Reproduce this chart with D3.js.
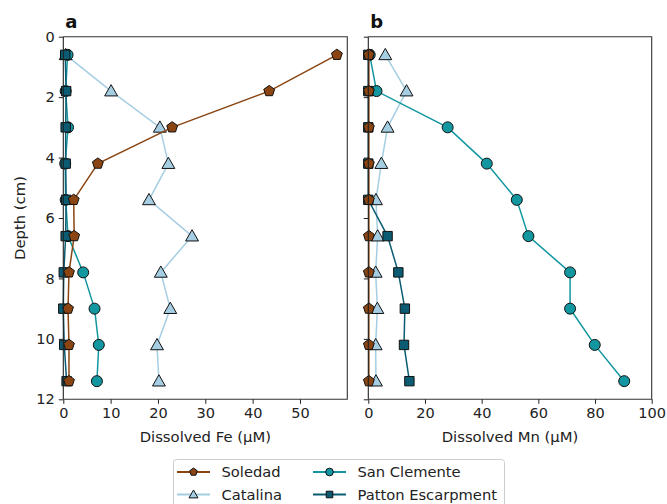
<!DOCTYPE html>
<html>
<head>
<meta charset="utf-8">
<script src="https://cdn.jsdelivr.net/npm/d3@7"></script>
<style>
  html, body { margin: 0; padding: 0; background: #fff; }
  svg { display: block; font-family: "DejaVu Sans", sans-serif; }
</style>
</head>
<body>
<svg id="chart" width="667" height="504"></svg>
<script>
// Porewater profiles: dissolved Fe and Mn with depth at four sites
const depths = [0.6, 1.8, 3.0, 4.2, 5.4, 6.6, 7.8, 9.0, 10.2, 11.4];
const sites = ["Soledad", "Catalina", "San Clemente", "Patton Escarpment"];

const feSoledad = [57.8, 43.5, 23.0, 7.3, 2.2, 2.3, 1.2, 1.0, 1.2, 1.2];
const feCatalina = [0.5, 10.1, 20.4, 22.2, 18.1, 27.2, 20.6, 22.6, 19.8, 20.2];
const feSanClemente = [0.9, 0.5, 1.0, 0.4, 0.5, 1.0, 4.2, 6.6, 7.5, 7.1];
const fePatton = [0.4, 0.6, 0.5, 0.5, 0.6, 0.5, 0.1, 0.0, 0.2, 0.7];

const mnSoledad = [0.2, 0.2, 0.2, 0.2, 0.2, 0.2, 0.2, 0.2, 0.2, 0.2];
const mnCatalina = [6.0, 13.5, 6.8, 4.6, 2.7, 3.3, 2.6, 3.2, 2.6, 2.7];
const mnSanClemente = [0.5, 2.9, 28.0, 41.8, 52.4, 56.5, 71.2, 71.2, 79.9, 90.3];
const mnPatton = [0.0, 0.0, 0.0, 0.0, 0.0, 6.8, 10.6, 12.9, 12.6, 14.5];

const depthTicks = [0, 2, 4, 6, 8, 10, 12];
const feTicks = [0, 10, 20, 30, 40, 50];
const mnTicks = [0, 20, 40, 60, 80, 100];

const style = {
  "Soledad": { line: "#8a4512", fill: "#8a4512", symbol: "pentagon", size: 5.7 },
  "Catalina": { line: "#a6cee3", fill: "#a6cee3", symbol: "triangle", size: 5.6 },
  "San Clemente": { line: "#12969f", fill: "#12969f", symbol: "circle", size: 5.5 },
  "Patton Escarpment": { line: "#0b5c72", fill: "#0b5c72", symbol: "square", size: 4.7 }
};
// stacking order of the profiles (last drawn on top)
const drawOrder = ["Catalina", "San Clemente", "Patton Escarpment", "Soledad"];

const svg = d3.select("#chart");
const plotTop = 36.7, plotBottom = 399.3;
const y = d3.scaleLinear().domain([0, 12]).range([plotTop, plotBottom]);

function markerPath(sym, r) {
  if (sym === "circle") {
    return `M${r},0A${r},${r} 0 1,1 ${-r},0A${r},${r} 0 1,1 ${r},0Z`;
  }
  if (sym === "square") {
    return `M${-r},${-r}H${r}V${r}H${-r}Z`;
  }
  if (sym === "triangle") {
    const h = r * 1.15;
    return `M0,${-h}L${h},${h * 0.75}L${-h},${h * 0.75}Z`;
  }
  // pentagon
  const pts = d3.range(5).map(i => {
    const a = -Math.PI / 2 + i * 2 * Math.PI / 5;
    return [r * Math.cos(a), r * Math.sin(a)];
  });
  return "M" + pts.map(p => p.join(",")).join("L") + "Z";
}

function panel(cfg) {
  const x = d3.scaleLinear().domain(cfg.domain).range([cfg.left, cfg.right]);
  const g = svg.append("g");

  // profiles
  drawOrder.forEach(name => {
    const vals = cfg.values[name];
    const pts = depths.map((d, i) => [x(vals[i]), y(d)]);
    const st = style[name];
    g.append("path")
      .attr("d", d3.line()(pts))
      .attr("fill", "none")
      .attr("stroke", st.line)
      .attr("stroke-width", 1.5);
    g.selectAll(null).data(pts).join("path")
      .attr("transform", p => `translate(${p[0]},${p[1]})`)
      .attr("d", markerPath(st.symbol, st.size))
      .attr("fill", st.fill)
      .attr("stroke", "#111")
      .attr("stroke-width", 1);
  });

  // frame: left spine sits at x = 0
  const x0 = x(0);
  g.append("path")
    .attr("d", `M${x0},${plotTop}V${plotBottom}`)
    .attr("stroke", "#222").attr("stroke-width", 1.1).attr("fill", "none");
  g.append("path")
    .attr("d", `M${x0},${plotTop}H${cfg.right}V${plotBottom}H${x0}`)
    .attr("stroke", "#333").attr("stroke-width", 1.1).attr("fill", "none");

  // axes
  const xAxis = d3.axisBottom(x).tickValues(cfg.ticks).tickSize(4.5).tickPadding(4);
  const gx = g.append("g").attr("transform", `translate(0,${plotBottom})`).call(xAxis);
  gx.select(".domain").remove();
  gx.selectAll("text").attr("font-size", 14.5).attr("fill", "#222")
    .attr("font-family", "DejaVu Sans");
  gx.selectAll("line").attr("stroke", "#222");

  const yAxis = d3.axisLeft(y).tickValues(depthTicks).tickSize(4.5).tickPadding(4)
    .tickFormat(cfg.yLabels ? d3.format("d") : () => "");
  const gy = g.append("g").attr("transform", `translate(${x0},0)`).call(yAxis);
  gy.select(".domain").remove();
  gy.selectAll("text").attr("font-size", 14.5).attr("fill", "#222")
    .attr("font-family", "DejaVu Sans");
  gy.selectAll("line").attr("stroke", "#222");

  // axis title and panel letter
  g.append("text")
    .attr("x", (x0 + cfg.right) / 2).attr("y", 442)
    .attr("text-anchor", "middle").attr("font-size", 14.8).attr("fill", "#222")
    .text(cfg.title);
  g.append("text")
    .attr("x", x0 + 2).attr("y", 28)
    .attr("font-size", 18).attr("font-weight", "bold").attr("fill", "#111")
    .text(cfg.letter);
}

panel({
  left: 63.3, right: 347.3, domain: [0, 60], ticks: feTicks, yLabels: true,
  title: "Dissolved Fe (μM)", letter: "a",
  values: {
    "Soledad": feSoledad, "Catalina": feCatalina,
    "San Clemente": feSanClemente, "Patton Escarpment": fePatton
  }
});
panel({
  left: 368.3, right: 651.7, domain: [0, 100], ticks: mnTicks, yLabels: false,
  title: "Dissolved Mn (μM)", letter: "b",
  values: {
    "Soledad": mnSoledad, "Catalina": mnCatalina,
    "San Clemente": mnSanClemente, "Patton Escarpment": mnPatton
  }
});

// y-axis title
svg.append("text")
  .attr("transform", `translate(25,${(plotTop + plotBottom) / 2}) rotate(-90)`)
  .attr("text-anchor", "middle").attr("font-size", 14.8).attr("fill", "#222")
  .text("Depth (cm)");

// legend (two columns)
const lg = svg.append("g");
lg.append("rect")
  .attr("x", 173.5).attr("y", 459.5).attr("width", 331).attr("height", 56)
  .attr("rx", 3).attr("fill", "#fff").attr("stroke", "#ccc").attr("stroke-width", 1);
const legendPos = [
  { name: "Soledad", hx: 177, ty: 472 },
  { name: "Catalina", hx: 177, ty: 494.5 },
  { name: "San Clemente", hx: 313, ty: 472 },
  { name: "Patton Escarpment", hx: 313, ty: 494.5 }
];
legendPos.forEach(p => {
  const st = style[p.name];
  lg.append("line")
    .attr("x1", p.hx).attr("x2", p.hx + 33).attr("y1", p.ty).attr("y2", p.ty)
    .attr("stroke", st.line).attr("stroke-width", 1.8);
  lg.append("path")
    .attr("transform", `translate(${p.hx + 16.5},${p.ty})`)
    .attr("d", markerPath(st.symbol, st.size * 0.7))
    .attr("fill", st.fill).attr("stroke", "#111").attr("stroke-width", 1);
  lg.append("text")
    .attr("x", p.hx + 44.5).attr("y", p.ty + 5.2)
    .attr("font-size", 14.7).attr("fill", "#222")
    .text(p.name);
});
</script>
</body>
</html>
